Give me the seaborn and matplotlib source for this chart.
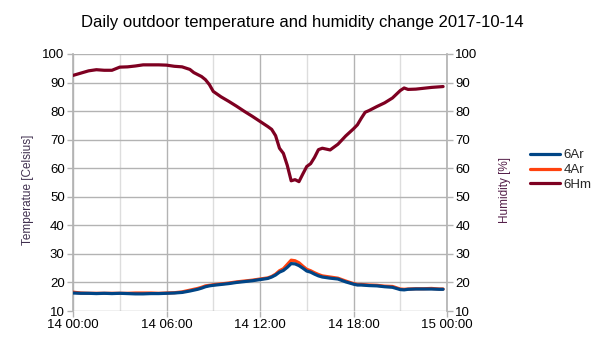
import matplotlib
matplotlib.use("Agg")
import matplotlib.pyplot as plt
import matplotlib.dates as mdates
import pandas as pd
import seaborn as sns

# Sample times on 2017-10-14
times = ["00:00", "00:30", "01:00", "01:30", "02:00", "02:30", "03:00", "03:30",
         "04:00", "04:30", "05:00", "05:30", "06:00", "06:30", "07:00", "07:30",
         "07:45", "08:00", "08:15", "08:30", "08:45", "09:00", "09:30", "10:00",
         "10:30", "11:00", "11:30", "12:00", "12:30", "12:45", "13:00", "13:15",
         "13:30", "13:45", "14:00", "14:15", "14:30", "14:45", "15:00", "15:15",
         "15:30", "15:45", "16:00", "16:30", "17:00", "17:30", "18:00", "18:15",
         "18:30", "18:45", "19:00", "19:30", "20:00", "20:30", "21:00", "21:15",
         "21:30", "22:00", "22:30", "23:00", "23:30", "23:45"]

# Temperature sensor 6Ar [Celsius]
temp_6ar = [16.3, 16.2, 16.2, 16.1, 16.2, 16.1, 16.2, 16.1,
            16.0, 16.0, 16.1, 16.1, 16.2, 16.3, 16.5, 17.0,
            17.3, 17.6, 18.0, 18.5, 18.8, 19.0, 19.3, 19.6,
            20.0, 20.3, 20.6, 21.0, 21.4, 21.9, 22.6, 23.6,
            24.2, 25.3, 26.6, 26.5, 25.9, 25.0, 24.0, 23.6,
            22.9, 22.3, 21.9, 21.5, 21.2, 20.2, 19.4, 19.1,
            19.1, 19.0, 18.9, 18.8, 18.5, 18.3, 17.5, 17.4,
            17.6, 17.7, 17.7, 17.7, 17.6, 17.6]

# Temperature sensor 4Ar [Celsius]
temp_4ar = [16.6, 16.3, 16.2, 16.2, 16.2, 16.2, 16.2, 16.2,
            16.3, 16.3, 16.3, 16.2, 16.3, 16.4, 16.7, 17.3,
            17.6, 17.9, 18.3, 18.8, 19.0, 19.2, 19.5, 19.8,
            20.2, 20.5, 20.8, 21.2, 21.6, 22.1, 22.9, 24.1,
            24.8, 26.3, 27.8, 27.6, 26.9, 25.7, 24.6, 24.1,
            23.4, 22.8, 22.3, 21.9, 21.5, 20.5, 19.6, 19.3,
            19.3, 19.2, 19.1, 19.0, 18.7, 18.6, 17.7, 17.6,
            17.7, 17.8, 17.8, 17.9, 17.7, 17.7]

# Relative humidity sensor 6Hm [%]
hum_6hm = [92.5, 93.3, 94.1, 94.5, 94.3, 94.3, 95.4, 95.5,
           95.8, 96.2, 96.2, 96.2, 96.1, 95.7, 95.5, 94.6,
           93.5, 92.8, 92.1, 91.0, 89.3, 86.9, 85.0, 83.4,
           81.7, 79.9, 78.2, 76.4, 74.6, 73.6, 71.4, 67.0,
           65.2, 61.0, 55.6, 56.0, 55.3, 58.0, 60.6, 61.6,
           63.8, 66.5, 67.0, 66.4, 68.4, 71.3, 73.8, 75.2,
           77.5, 79.6, 80.2, 81.6, 82.9, 84.6, 87.2, 88.1,
           87.6, 87.7, 88.0, 88.3, 88.5, 88.6]

y_ticks = [10, 20, 30, 40, 50, 60, 70, 80, 90, 100]

stamps = pd.to_datetime(["2017-10-14 " + t for t in times])
df = pd.DataFrame({"time": stamps, "6Ar": temp_6ar, "4Ar": temp_4ar, "6Hm": hum_6hm})

C_6AR = "#004586"
C_4AR = "#ff420e"
C_6HM = "#7e0021"
GRID = "#b3b3b3"
GRID_MINOR = "#dddddd"

sns.set_theme(style="white")
plt.rcParams["font.family"] = ["Liberation Sans", "DejaVu Sans"]

fig = plt.figure(figsize=(6.05, 3.4), dpi=100)
ax = fig.add_axes([73 / 605, 29 / 340, 374 / 605, 257 / 340])
ax2 = ax.twinx()

lw = 2.3
sns.lineplot(data=df, x="time", y="4Ar", ax=ax, color=C_4AR, linewidth=lw, label="4Ar", zorder=3)
sns.lineplot(data=df, x="time", y="6Ar", ax=ax, color=C_6AR, linewidth=lw, label="6Ar", zorder=4)
sns.lineplot(data=df, x="time", y="6Hm", ax=ax2, color=C_6HM, linewidth=lw, label="6Hm", zorder=4)

t0 = pd.Timestamp("2017-10-14 00:00")
t1 = pd.Timestamp("2017-10-15 00:00")
for a in (ax, ax2):
    a.set_xlim(t0, t1)
    a.set_ylim(10, 100)
    a.set_yticks(y_ticks)
    a.set_facecolor("none")
    for s in a.spines.values():
        s.set_visible(False)

ax.xaxis.set_major_locator(mdates.HourLocator(byhour=[0, 6, 12, 18]))
ax.xaxis.set_minor_locator(mdates.HourLocator(byhour=[3, 9, 15, 21]))
ax.xaxis.set_major_formatter(mdates.DateFormatter("%d %H:%M"))

ax.grid(True, which="major", axis="both", color=GRID, linewidth=1.0, zorder=0)
ax.grid(True, which="minor", axis="x", color=GRID_MINOR, linewidth=1.0, zorder=0)
ax.set_axisbelow(True)
ax2.grid(False)

ax.spines["left"].set_visible(True)
ax.spines["left"].set_color(GRID)
ax2.spines["right"].set_visible(True)
ax2.spines["right"].set_color(GRID)

tick_kw = dict(labelsize=9.5, labelcolor="#000000", color=GRID, length=4, width=1, direction="out")
ax.tick_params(axis="y", left=True, pad=2, **tick_kw)
ax.tick_params(axis="x", which="major", bottom=True, pad=2, **tick_kw)
ax.tick_params(axis="x", which="minor", bottom=False)
ax2.tick_params(axis="y", right=True, pad=2, **tick_kw)

ax.set_xlabel("")
ax.set_ylabel("Temperatue [Celsius]", fontsize=8.5, color="#40304f")
ax2.set_ylabel("Humidity [%]", fontsize=8.5, color="#55204a")
ax.yaxis.set_label_coords(-0.105, 0.47)
ax2.yaxis.set_label_coords(1.14, 0.47)

# Combined legend for both axes
h1, l1 = ax.get_legend_handles_labels()
h2, l2 = ax2.get_legend_handles_labels()
for a in (ax, ax2):
    if a.get_legend() is not None:
        a.get_legend().remove()
order = {"6Ar": 0, "4Ar": 1, "6Hm": 2}
pairs = sorted(zip(h1 + h2, l1 + l2), key=lambda p: order[p[1]])
fig.legend([p[0] for p in pairs], [p[1] for p in pairs],
           loc="center left", bbox_to_anchor=(530 / 605, 1 - 170 / 340),
           frameon=False, fontsize=9.5, handlelength=2.3, handletextpad=0.25,
           labelspacing=0.2, borderpad=0, borderaxespad=0)

fig.text(0.5, 1 - 22 / 340, "Daily outdoor temperature and humidity change 2017-10-14",
         ha="center", va="center", fontsize=12, color="#000000")

fig.savefig("out.png", dpi=100, facecolor="white")
